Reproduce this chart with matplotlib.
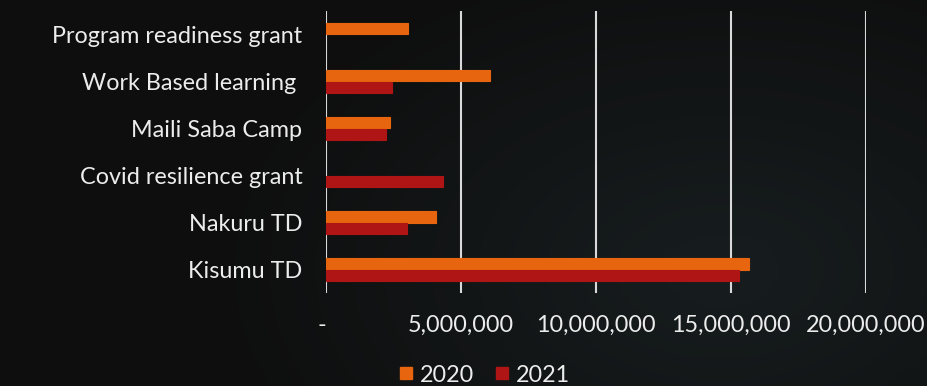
import numpy as np
import matplotlib
matplotlib.use("Agg")
import matplotlib.pyplot as plt
from matplotlib.lines import Line2D
from matplotlib.ticker import FuncFormatter

categories = ["Program readiness grant", "Work Based learning ", "Maili Saba Camp",
              "Covid resilience grant", "Nakuru TD", "Kisumu TD"]
values_2020 = [3030000, 6090000, 2360000, 0, 4070000, 15670000]
values_2021 = [0, 2450000, 2210000, 4340000, 3010000, 15280000]
series_names = ["2020", "2021"]
x_ticks = [0, 5000000, 10000000, 15000000, 20000000]

c2020 = "#E8650F"
c2021 = "#B01515"
txt = "#ECECEC"

plt.rcParams['font.family'] = ['Lato', 'DejaVu Sans']
FS = 16.8

W, H = 928, 386
fig = plt.figure(figsize=(W / 100, H / 100), dpi=100)

# radial gradient background
bg = fig.add_axes([0, 0, 1, 1], zorder=-10)
yy, xx = np.mgrid[0:H, 0:W]
cx, cy = 720, 270
r = np.sqrt(((xx - cx) / 520.0) ** 2 + ((yy - cy) / 330.0) ** 2)
t = np.clip(r, 0, 1)
inner = np.array([0x17, 0x1d, 0x1f]) / 255.0
outer = np.array([0x0e, 0x0e, 0x0e]) / 255.0
img = inner[None, None, :] * (1 - t[..., None]) + outer[None, None, :] * t[..., None]
bg.imshow(img, aspect='auto', extent=[0, 1, 0, 1])
bg.axis('off')

ax = fig.add_axes([326 / W, 1 - 293 / H, (866 - 326) / W, (293 - 11) / H])
ax.set_facecolor('none')

y = np.arange(len(categories))
h = 0.255
for vals, off, col, name in [(values_2020, -h / 2, c2020, series_names[0]),
                             (values_2021, h / 2, c2021, series_names[1])]:
    v = np.array(vals, dtype=float)
    v[v == 0] = np.nan
    ax.barh(y + off, v, height=h, color=col, edgecolor=col, linewidth=0.8, zorder=3, label=name)

ax.set_ylim(len(categories) - 0.5, -0.5)
ax.set_xlim(0, 20000000)
ax.set_xticks(x_ticks)
ax.xaxis.set_major_formatter(FuncFormatter(lambda v, p: "-" if v == 0 else f"{int(v):,}"))
ax.set_yticks(y)
ax.set_yticklabels(categories)
ax.grid(axis='x', color='#D9D9D9', linewidth=1.5, zorder=1)
ax.set_axisbelow(True)
for s in ax.spines.values():
    s.set_visible(False)
ax.tick_params(axis='both', length=0, colors=txt, labelsize=FS)
ax.tick_params(axis='x', pad=16)
ax.tick_params(axis='y', pad=17)
for lab in ax.get_xticklabels():
    if lab.get_text().strip() == "-":
        lab.set_horizontalalignment('right')

handles = [Line2D([0], [0], marker='s', linestyle='none', markersize=8,
                  markerfacecolor=c2020, markeredgecolor=c2020),
           Line2D([0], [0], marker='s', linestyle='none', markersize=8,
                  markerfacecolor=c2021, markeredgecolor=c2021)]
leg = fig.legend(handles, series_names, loc='center', bbox_to_anchor=(484.5 / W, 1 - 375 / H),
                 ncol=2, frameon=False, fontsize=FS, handlelength=0.6, handletextpad=0.3,
                 columnspacing=0.9, borderpad=0)
for t_ in leg.get_texts():
    t_.set_color(txt)

fig.savefig("out.png", dpi=100)
